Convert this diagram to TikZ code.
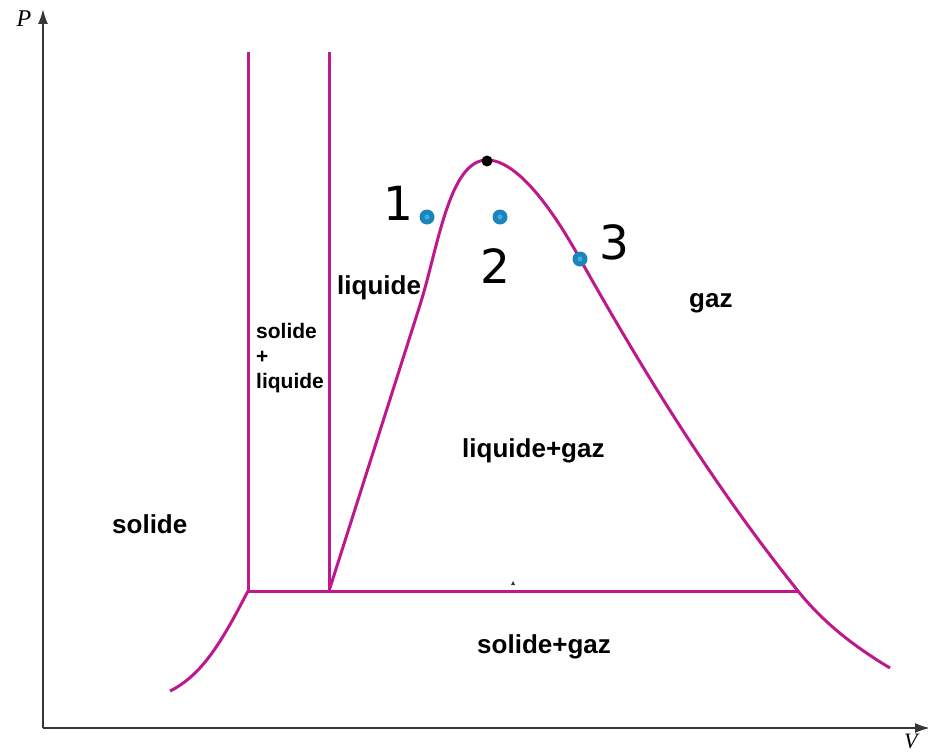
\documentclass[tikz,border=0pt]{standalone}
\usepackage{fontspec}
\setmainfont{Liberation Sans}
\newfontfamily\numfont{DejaVu Sans}
\newfontfamily\serifit{Liberation Serif}
\usetikzlibrary{arrows.meta}
\definecolor{curvec}{RGB}{190,25,140}
\definecolor{dotblue}{RGB}{28,132,186}
\definecolor{dotlight}{RGB}{60,175,225}
\definecolor{axisc}{RGB}{55,55,55}
\tikzset{
  curve/.style={draw=curvec, line width=3pt},
  axisline/.style={draw=axisc, line width=1.8pt, -{Latex[length=15pt,width=10pt]}},
  lbl/.style={font=\bfseries\fontsize{26}{30}\selectfont, inner sep=0pt, anchor=base west},
  numlbl/.style={font=\numfont\fontsize{47}{52}\selectfont, inner sep=0pt},
  bluedot/.style={circle, fill=dotblue, minimum size=15pt, inner sep=0pt},
}
\begin{document}
\begin{tikzpicture}[x=1pt,y=-1pt]
\useasboundingbox (0,0) rectangle (928,752);
% axes
\coordinate (O) at (43,728);
\coordinate (Ptop) at (43,9);
\coordinate (Vend) at (930,728);
\draw[axisline] (O) -- (Ptop);
\draw[axisline] (O) -- (Vend);
\node[font=\serifit\itshape\fontsize{24}{28}\selectfont, inner sep=0pt] (P) at (24,19) {P};
\node[font=\serifit\itshape\fontsize{22}{26}\selectfont, inner sep=0pt, anchor=west] (V) at (904,741) {V};
% key points
\coordinate (A) at (248,591);
\coordinate (B) at (329,591);
\coordinate (C) at (798,591);
\coordinate (At) at (248,52);
\coordinate (Bt) at (329,52);
\coordinate (Low) at (170,691);
\coordinate (Top) at (487,160);
\coordinate (R1) at (580,259);
\coordinate (End) at (890,668);
% lines
\draw[curve] (A) -- (At);
\draw[curve] (B) -- (Bt);
\draw[curve] (A) -- (C);
\draw[curve] (A) .. controls (226,633) and (205,674) .. (Low);
\draw[curve, line join=round] (B) -- (420,305)
  .. controls (438,248) and (449,160) .. (Top)
  .. controls (520,160) and (558,219) .. (R1)
  .. controls (642,369) and (710,481) .. (C)
  .. controls (826,626) and (860,650) .. (End);
% tiny mark
\fill[black!80] (511,585) -- (513,581) -- (515,585) -- cycle;
% critical point
\fill[black] (Top) ++(0,1) circle (5.5pt);
% points
\node[bluedot] (p1) at (427,217) {};
\node[bluedot] (p2) at (500,217) {};
\node[bluedot] (p3) at (580,259) {};
\fill[dotlight] (p1) circle (2.5pt);
\fill[dotlight] (p2) circle (2.5pt);
\fill[dotlight] (p3) circle (2.5pt);
\node[numlbl] (n1) at (398,203) {1};
\node[numlbl] (n2) at (495,266) {2};
\node[numlbl] (n3) at (614,242) {3};
% labels
\node[lbl] (liq) at (337,294) {liquide};
\node[lbl] (gaz) at (689,307) {gaz};
\node[lbl] (lg) at (462,457) {liquide+gaz};
\node[lbl] (sol) at (112,533) {solide};
\node[lbl] (sg) at (477,653) {solide+gaz};
\node[font=\bfseries\fontsize{21}{25}\selectfont, inner sep=0pt, align=left, anchor=north west] (sl) at (256,323) {solide\\+\\liquide};
\end{tikzpicture}
\end{document}
